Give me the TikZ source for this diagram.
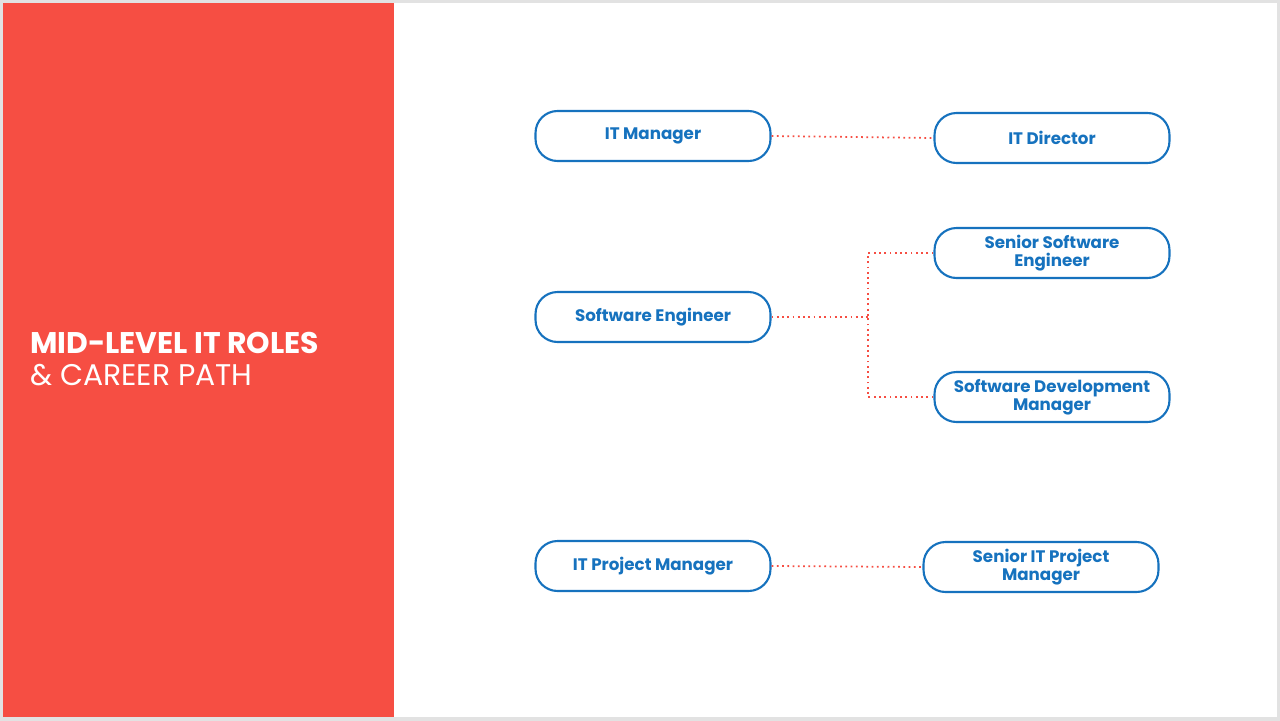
\documentclass[tikz,border=0pt]{standalone}
\usepackage{fontspec}
\setmainfont{Poppins}
\usetikzlibrary{positioning, calc}
\definecolor{panelred}{HTML}{F64E43}
\definecolor{roleblue}{HTML}{1672BE}
\definecolor{framegray}{HTML}{E2E2E2}
\begin{document}
\begin{tikzpicture}[x=0.02cm, y=-0.02cm,
    role/.style={draw=roleblue, line width=1.2pt, rounded corners=12.5pt, minimum width=4.7cm, minimum height=1cm, align=center, text=roleblue, font=\fontsize{9.5}{10.5}\selectfont\bfseries},
    link/.style={draw=panelred, line width=1pt, dotted}]
        \useasboundingbox (0,0) rectangle (1280,720);
        \draw[framegray, line width=3pt] (0,0) rectangle (1280,720);
        \fill[panelred] (3,3) rectangle (394,717);
        \node[anchor=west, text=white, align=left, font=\fontsize{17}{19}\selectfont] (title) at (24,359) {\textbf{MID-LEVEL IT ROLES}\\[-1pt]\& CAREER PATH};
        
        \node[role] (itm) at (653,136) {IT Manager};
        \node[role] (itd) at (1052,138) {IT Director};
        \node[role] (sse) at (1052,253) {Senior Software\\Engineer};
        \node[role] (se) at (653,317) {Software Engineer};
        \node[role] (sdm) at (1052,397) {Software Development\\Manager};
        \node[role] (itpm) at (653,566) {IT Project Manager};
        \node[role] (sitpm) at (1041,567) {Senior IT Project\\Manager};
        \coordinate (fork) at (868,317);
        
        \draw[link] (itm.east)--(itd.west);
        \draw[link] (se.east)--(fork);
        \draw[link] (sse.west)-|(fork);
        \draw[link] (sdm.west)-|(fork);
        \draw[link] (itpm.east)--(sitpm.west);
    \end{tikzpicture}
\end{document}
